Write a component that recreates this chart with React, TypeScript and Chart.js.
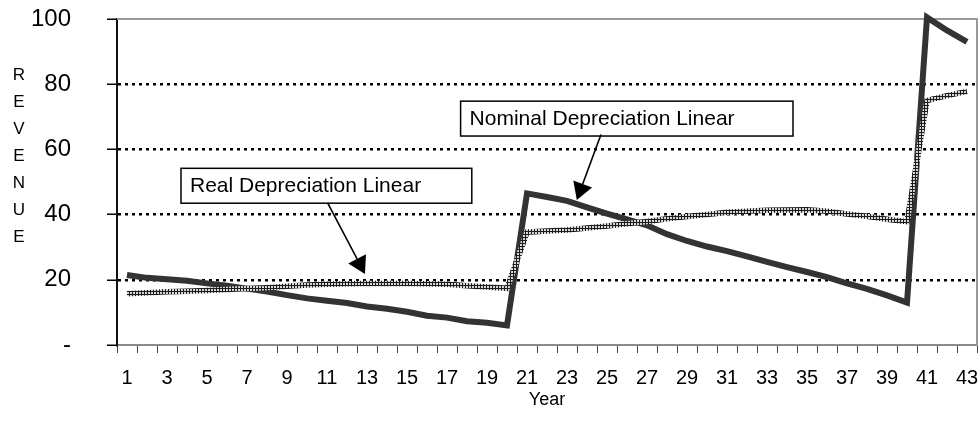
import React, { useEffect, useRef } from 'react';
import { Chart, registerables } from 'chart.js';

Chart.register(...registerables);

const years = ['1','2','3','4','5','6','7','8','9','10','11','12','13','14','15','16','17','18','19','20','21','22','23','24','25','26','27','28','29','30','31','32','33','34','35','36','37','38','39','40','41','42','43'];

const nominalDepreciation = [
  21.5, 20.6, 20.2, 19.7, 18.9, 18.2, 17.3, 16.4, 15.3, 14.3,
  13.6, 12.9, 11.8, 11.1, 10.2, 9.0, 8.4, 7.3, 6.8, 6.0,
  46.5, 45.4, 44.2, 42.2, 40.3, 38.5, 36.7, 34.0, 31.9, 30.2,
  28.8, 27.2, 25.5, 23.9, 22.4, 20.8, 18.9, 17.2, 15.2, 13.0,
  100.5, 96.5, 93.0,
];

const realDepreciation = [
  15.7, 16.0, 16.3, 16.5, 16.7, 17.0, 17.3, 17.6, 18.0, 18.4,
  18.6, 18.8, 18.9, 18.9, 18.9, 18.8, 18.6, 18.2, 17.8, 17.4,
  34.6, 35.0, 35.3, 35.9, 36.5, 37.2, 37.9, 38.7, 39.4, 40.0,
  40.7, 41.0, 41.3, 41.4, 41.5, 41.0, 40.2, 39.5, 38.6, 37.8,
  75.0, 76.5, 77.8,
];

const yTicks = [0, 20, 40, 60, 80, 100];
const yTickLabels = ['-', '20', '40', '60', '80', '100'];
const yAxisTitle = ['R', 'E', 'V', 'E', 'N', 'U', 'E'];
const xAxisTitle = 'Year';

const annotationTexts = ['Real Depreciation Linear', 'Nominal Depreciation Linear'];

const FONT = "'Liberation Sans', Arial, Helvetica, sans-serif";

function makePattern(): CanvasPattern | string {
  const c = document.createElement('canvas');
  c.width = 3;
  c.height = 3;
  const g = c.getContext('2d');
  if (!g) return '#777';
  g.fillStyle = '#d6d6d6';
  g.fillRect(0, 0, 3, 3);
  g.fillStyle = '#1c1c1c';
  g.fillRect(0, 0, 3, 1);
  g.fillRect(0, 0, 1, 3);
  const p = g.createPattern(c, 'repeat');
  return p || '#777';
}

export default function App() {
  const canvasRef = useRef<HTMLCanvasElement | null>(null);

  useEffect(() => {
    const canvas = canvasRef.current;
    if (!canvas) return;

    const decorPlugin = {
      id: 'decor',
      beforeDatasetsDraw(chart: any) {
        const { ctx, chartArea } = chart;
        ctx.save();
        ctx.strokeStyle = '#9a9a9a';
        ctx.lineWidth = 2;
        ctx.beginPath();
        ctx.moveTo(chartArea.left, chartArea.top);
        ctx.lineTo(chartArea.right, chartArea.top);
        ctx.lineTo(chartArea.right, chartArea.bottom);
        ctx.stroke();
        ctx.restore();
      },
      afterDraw(chart: any) {
        const { ctx } = chart;
        const xs = chart.scales.x;
        const ys = chart.scales.y;
        // y-axis title as stacked letters
        ctx.save();
        ctx.fillStyle = '#000';
        ctx.font = `17px ${FONT}`;
        ctx.textAlign = 'center';
        ctx.textBaseline = 'middle';
        yAxisTitle.forEach((ch, i) => {
          ctx.fillText(ch, 19, 75 + i * 27);
        });
        ctx.restore();

        // annotations: box [leftIdx, topVal, rightIdx, bottomVal], arrow from/to [idx, val]
        const notes = [
          { text: annotationTexts[0], box: [2.7, 54.2, 17.24, 43.5], from: [10.03, 43.6], to: [11.9, 21.8] },
          { text: annotationTexts[1], box: [16.68, 74.8, 33.3, 64.1], from: [23.7, 64.6], to: [22.49, 44.5] },
        ];
        ctx.save();
        notes.forEach((n) => {
          const l = xs.getPixelForValue(n.box[0]);
          const t = ys.getPixelForValue(n.box[1]);
          const r = xs.getPixelForValue(n.box[2]);
          const b = ys.getPixelForValue(n.box[3]);
          ctx.fillStyle = '#fff';
          ctx.fillRect(l, t, r - l, b - t);
          ctx.strokeStyle = '#000';
          ctx.lineWidth = 1.5;
          ctx.strokeRect(l, t, r - l, b - t);
          ctx.fillStyle = '#000';
          ctx.font = `21px ${FONT}`;
          ctx.textAlign = 'left';
          ctx.textBaseline = 'alphabetic';
          ctx.fillText(n.text, l + 9, t + 24);

          const x1 = xs.getPixelForValue(n.from[0]);
          const y1 = ys.getPixelForValue(n.from[1]);
          const x2 = xs.getPixelForValue(n.to[0]);
          const y2 = ys.getPixelForValue(n.to[1]);
          const ang = Math.atan2(y2 - y1, x2 - x1);
          const hl = 17;
          const hw = 10;
          const bx = x2 - hl * Math.cos(ang);
          const by = y2 - hl * Math.sin(ang);
          ctx.beginPath();
          ctx.moveTo(x1, y1);
          ctx.lineTo(bx, by);
          ctx.lineWidth = 1.6;
          ctx.stroke();
          ctx.beginPath();
          ctx.moveTo(x2, y2);
          ctx.lineTo(bx + hw * Math.sin(ang), by - hw * Math.cos(ang));
          ctx.lineTo(bx - hw * Math.sin(ang), by + hw * Math.cos(ang));
          ctx.closePath();
          ctx.fill();
        });
        ctx.restore();
      },
    };

    const chart = new Chart(canvas, {
      type: 'line',
      data: {
        labels: years,
        datasets: [
          {
            label: 'Real Depreciation Linear',
            data: realDepreciation,
            borderColor: makePattern() as any,
            borderWidth: 5.5,
            pointRadius: 0,
            tension: 0,
            fill: false,
            clip: false as any,
          },
          {
            label: 'Nominal Depreciation Linear',
            data: nominalDepreciation,
            borderColor: '#333333',
            borderWidth: 6,
            pointRadius: 0,
            tension: 0,
            fill: false,
            clip: false as any,
          },
        ],
      },
      options: {
        animation: false,
        responsive: false,
        maintainAspectRatio: false,
        layout: { padding: { top: 19, right: 3, left: 0, bottom: 0 }, autoPadding: false },
        plugins: {
          legend: { display: false },
          tooltip: { enabled: false },
          title: { display: false },
        },
        scales: {
          x: {
            type: 'category',
            offset: true,
            grid: {
              offset: true,
              drawOnChartArea: false,
              drawTicks: true,
              tickLength: 21,
              tickColor: '#444',
              tickWidth: 1,
              tickBorderDash: [7, 200],
            },
            border: { display: true, color: '#8a8a8a', width: 2 },
            ticks: {
              autoSkip: false,
              maxRotation: 0,
              minRotation: 0,
              padding: 0,
              color: '#000',
              font: { family: FONT, size: 20 },
              callback: (_v: any, i: number) => (i % 2 === 0 ? years[i] : ''),
            },
            title: {
              display: true,
              text: xAxisTitle,
              color: '#000',
              font: { family: FONT, size: 18 },
              padding: { top: 0, bottom: 23 },
            },
            afterFit: (s: any) => {
              s.height = 89;
            },
          },
          y: {
            min: 0,
            max: 100,
            afterBuildTicks: (s: any) => {
              s.ticks = yTicks.map((v) => ({ value: v }));
            },
            ticks: {
              padding: 0,
              color: '#000',
              font: { family: FONT, size: 24 },
              callback: (v: any) => {
                const i = yTicks.indexOf(Number(v));
                return i >= 0 ? yTickLabels[i] : '';
              },
            },
            grid: {
              color: (c: any) => {
                const v = c.tick ? c.tick.value : 0;
                return v === 0 || v === 100 ? 'rgba(0,0,0,0)' : '#000';
              },
              lineWidth: 2.5,
              drawTicks: true,
              tickLength: 46,
              tickColor: '#000',
              tickWidth: 1.5,
              tickBorderDash: [0, 36, 10, 200],
            },
            border: { display: true, color: '#111', width: 2, dash: [3, 4] },
            afterFit: (s: any) => {
              s.width = 117;
            },
          },
        },
      } as any,
      plugins: [decorPlugin],
    });

    return () => {
      chart.destroy();
    };
  }, []);

  return (
    <div style={{ position: 'absolute', left: 0, top: 0, width: 980, height: 434, background: '#fff' }}>
      <canvas ref={canvasRef} width={980} height={434} style={{ display: 'block', width: 980, height: 434 }} />
    </div>
  );
}
